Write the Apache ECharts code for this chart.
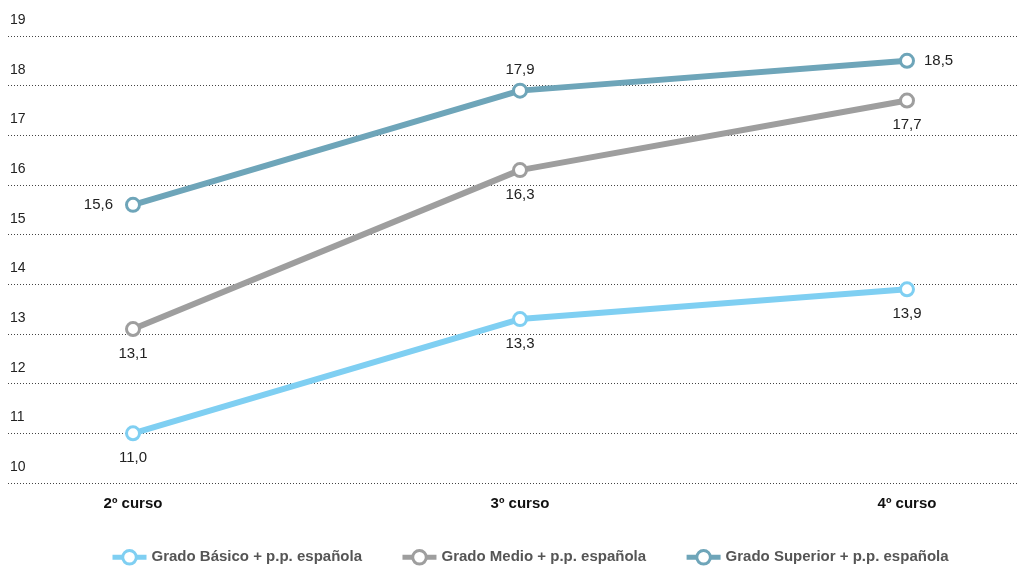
<!DOCTYPE html>
<html><head><meta charset="utf-8">
<script src="https://cdn.jsdelivr.net/npm/echarts@6/dist/echarts.min.js"></script>
<style>html,body{margin:0;padding:0;background:#fff}#c{width:1018px;height:566px}</style>
</head><body><div id="c"></div>
<script>
const categories = ['2º curso', '3º curso', '4º curso'];
const seriesNames = ['Grado Básico + p.p. española', 'Grado Medio + p.p. española', 'Grado Superior + p.p. española'];
const basico = [11.0, 13.3, 13.9];
const medio = [13.1, 16.3, 17.7];
const superior = [15.6, 17.9, 18.5];
const yMin = 10, yMax = 19, yInterval = 1;

const colors = ['#7fcff2', '#9e9e9e', '#6ea5b9'];
const FONT = '"Liberation Sans", Arial, sans-serif';
const fmt = v => v.toFixed(1).replace('.', ',');

function mkSeries(name, data, color, positions) {
  return {
    name, type: 'line', xAxisIndex: 1, yAxisIndex: 1,
    symbol: 'circle', symbolSize: 13,
    lineStyle: { width: 6, color },
    itemStyle: { color: '#fff', borderColor: color, borderWidth: 3 },
    label: {
      show: true, fontFamily: FONT, fontSize: 15, color: '#222',
      backgroundColor: '#fff', padding: [1, 2],
      formatter: p => fmt(p.value),
      position: 'bottom', distance: 8
    },
    data: data.map((v, i) => {
      const pos = positions[i];
      const dist = pos === 'left' ? 10 : pos === 'right' ? 7 : pos === 'top' ? 4 : 8;
      return { value: v, label: { position: pos, distance: dist } };
    }),
    emphasis: { disabled: true }, animation: false, z: 3
  };
}

const chart = echarts.init(document.getElementById('c'));
chart.setOption({
  animation: false,
  color: colors,
  grid: [
    { left: 8, right: 0, top: 36, bottom: 83 },
    { left: 133, right: 111, top: 36, bottom: 83 }
  ],
  xAxis: [
    { type: 'category', gridIndex: 0, data: categories, show: false },
    { type: 'category', gridIndex: 1, data: categories, boundaryGap: false,
      axisLine: { show: false }, axisTick: { show: false },
      axisLabel: { fontFamily: FONT, fontSize: 15, fontWeight: 'bold', color: '#111', margin: 13 } }
  ],
  yAxis: [
    { type: 'value', gridIndex: 0, min: yMin, max: yMax, interval: yInterval,
      axisLine: { show: false }, axisTick: { show: false },
      axisLabel: { inside: true, verticalAlign: 'bottom', margin: 2, padding: [0, 0, 9, 0],
        fontFamily: FONT, fontSize: 14, color: '#222' },
      splitLine: { lineStyle: { type: [1, 2], color: '#444', width: 1 } } },
    { type: 'value', gridIndex: 1, min: yMin, max: yMax, interval: yInterval, show: false,
      splitLine: { show: false } }
  ],
  legend: {
    top: 549, left: 110, padding: 0, itemGap: 38, itemWidth: 34, itemHeight: 17,
    lineStyle: { width: 5 },
    itemStyle: { color: '#fff', borderWidth: 3 },
    textStyle: { fontFamily: FONT, fontSize: 15, fontWeight: 'bold', color: '#555' },
    data: seriesNames
  },
  series: [
    mkSeries(seriesNames[0], basico, colors[0], ['bottom', 'bottom', 'bottom']),
    mkSeries(seriesNames[1], medio, colors[1], ['bottom', 'bottom', 'bottom']),
    mkSeries(seriesNames[2], superior, colors[2], ['left', 'top', 'right'])
  ]
});
</script></body></html>
